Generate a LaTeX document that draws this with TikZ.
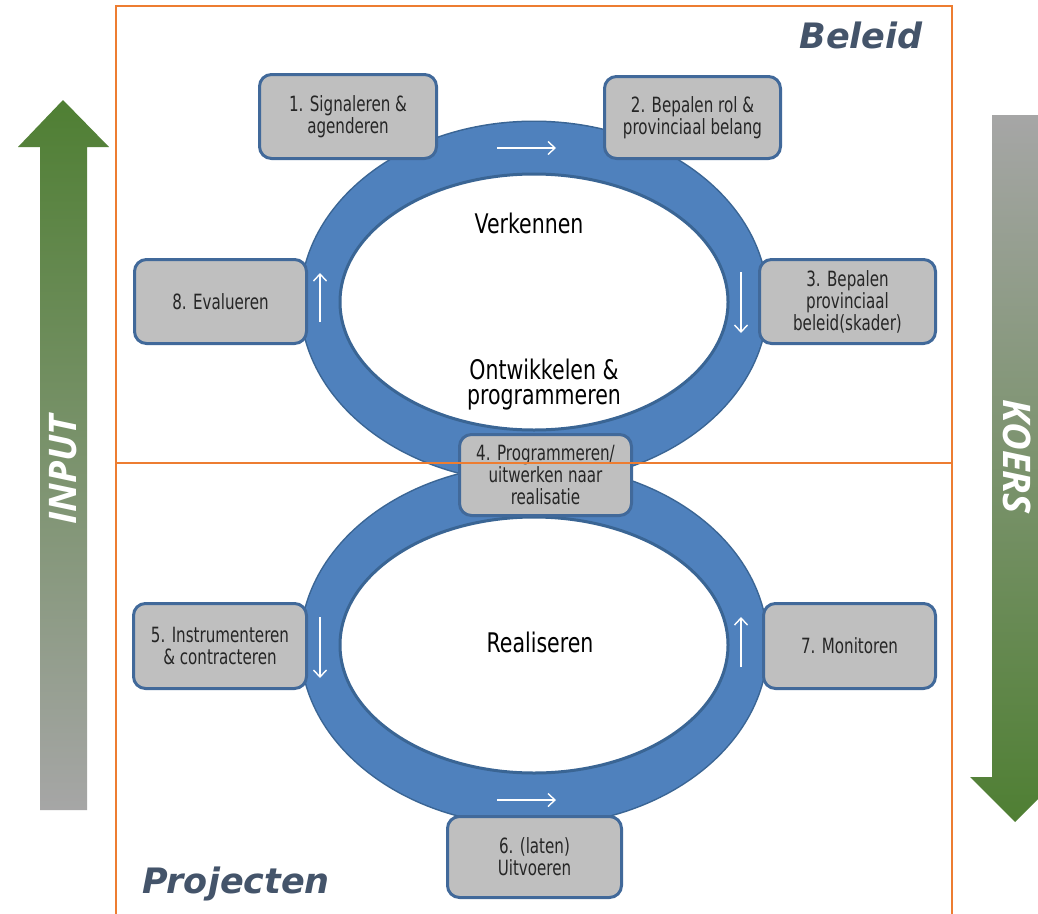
\documentclass[tikz,border=0pt]{standalone}
\usepackage{fontspec}
\setmainfont{DejaVu Sans}
\newfontfamily\condfont[FakeStretch=0.76]{DejaVu Sans}
\newfontfamily\boxfont[FakeStretch=0.72]{DejaVu Sans}
\newfontfamily\titlefont{DejaVu Sans}
\newfontfamily\arrowfont{Open Sans}
\usetikzlibrary{arrows.meta}
\definecolor{ringfill}{HTML}{4F81BD}
\definecolor{ringedge}{HTML}{3A6594}
\definecolor{boxfill}{HTML}{BFBFBF}
\definecolor{boxedge}{HTML}{41699A}
\definecolor{orng}{HTML}{ED7D31}
\definecolor{slate}{HTML}{44546A}
\definecolor{grn}{HTML}{4F7F33}
\definecolor{gry}{HTML}{A6A6A6}
\definecolor{txtdark}{HTML}{262626}
\tikzset{
  stepbox/.style={draw=boxedge, line width=3pt, fill=boxfill, rounded corners=12pt,
    inner sep=0pt, align=center, text=txtdark,
    font=\boxfont\fontsize{21}{22}\selectfont},
  ringtext/.style={align=center, text=black, font=\condfont\fontsize{27}{25}\selectfont},
  flow/.style={white, line width=1.4pt, -{Straight Barb[length=7pt,width=13pt]}},
  bigtext/.style={text=white, font=\arrowfont\bfseries\itshape\fontsize{38}{40}\selectfont},
  areatitle/.style={text=slate, font=\titlefont\bfseries\itshape\fontsize{35}{38}\selectfont},
  frame/.style={orng, line width=1.8pt}
}
\begin{document}
\begin{tikzpicture}[x=1pt,y=-1pt]
\clip (0,0) rectangle (1038,913);
\fill[white] (0,0) rectangle (1038,913);
% rings
\foreach \cy in {302,645}{
  \draw[ringedge, line width=3pt] (534,\cy) ellipse [x radius=233pt, y radius=180pt];
}
\foreach \cy in {302,645}{
  \fill[ringfill] (534,\cy) ellipse [x radius=233pt, y radius=180pt];
}
\foreach \cy in {302,645}{
  \filldraw[fill=white, draw=ringedge, line width=3pt] (534,\cy) ellipse [x radius=194pt, y radius=128pt];
}
% white flow arrows
\coordinate (a1s) at (497,148); \coordinate (a1e) at (556,148);
\coordinate (a2s) at (741,272); \coordinate (a2e) at (741,333);
\coordinate (a3s) at (320,322); \coordinate (a3e) at (320,273);
\coordinate (a4s) at (320,617); \coordinate (a4e) at (320,678);
\coordinate (a5s) at (741,667); \coordinate (a5e) at (741,617);
\coordinate (a6s) at (497,800); \coordinate (a6e) at (556,800);
\foreach \s/\e in {a1s/a1e,a2s/a2e,a3s/a3e,a4s/a4e,a5s/a5e,a6s/a6e}{
  \draw[flow] (\s) -- (\e);
}
% ring texts
\node[ringtext, anchor=base] (verk) at (529,233) {Verkennen};
\node[ringtext, anchor=base] (ontw) at (544,379) {Ontwikkelen \&};
\node[ringtext, anchor=base] (prog) at (544,404) {programmeren};
\node[ringtext, anchor=base] (real) at (540,652) {Realiseren};
% step boxes
\node[stepbox, minimum width=177pt, minimum height=84pt] (b1) at (348,116.5) {1. Signaleren \&\\agenderen};
\node[stepbox, minimum width=176pt, minimum height=82pt] (b2) at (692.5,117.5) {2. Bepalen rol \&\\provinciaal belang};
\node[stepbox, minimum width=176pt, minimum height=84pt] (b3) at (847.5,301.5) {3. Bepalen\\provinciaal\\beleid(skader)};
\node[stepbox, minimum width=172pt, minimum height=81pt] (b4) at (545.5,475) {4. Programmeren/\\uitwerken naar\\realisatie};
\node[stepbox, minimum width=173pt, minimum height=85pt] (b5) at (220,646) {5. Instrumenteren\\\& contracteren};
\node[stepbox, minimum width=174pt, minimum height=81pt] (b6) at (534.5,857) {6. (laten)\\Uitvoeren};
\node[stepbox, minimum width=172pt, minimum height=85pt] (b7) at (849.5,646) {7. Monitoren};
\node[stepbox, minimum width=172pt, minimum height=84pt] (b8) at (220.5,301.5) {8. Evalueren};
% orange frame
\draw[frame] (116,920) -- (116,6) -- (952,6) -- (952,920);
\draw[frame] (116,463) -- (952,463);
% titles
\node[areatitle, anchor=base] (beleid) at (861,48) {Beleid};
\node[areatitle, anchor=base] (proj) at (236,893) {Projecten};
% big arrows
\shade[top color=grn, bottom color=gry] (63,100) -- (109,147) -- (87,147) -- (87,810) -- (40,810) -- (40,147) -- (18,147) -- cycle;
\shade[top color=gry, bottom color=grn] (992,115) -- (1038,115) -- (1038,777) -- (1060,777) -- (1015,822) -- (970,777) -- (992,777) -- cycle;
\node[bigtext, rotate=90] (inp) at (63,470) {INPUT};
\node[bigtext, rotate=-90] (koers) at (1017,457) {KOERS};
\end{tikzpicture}
\end{document}
